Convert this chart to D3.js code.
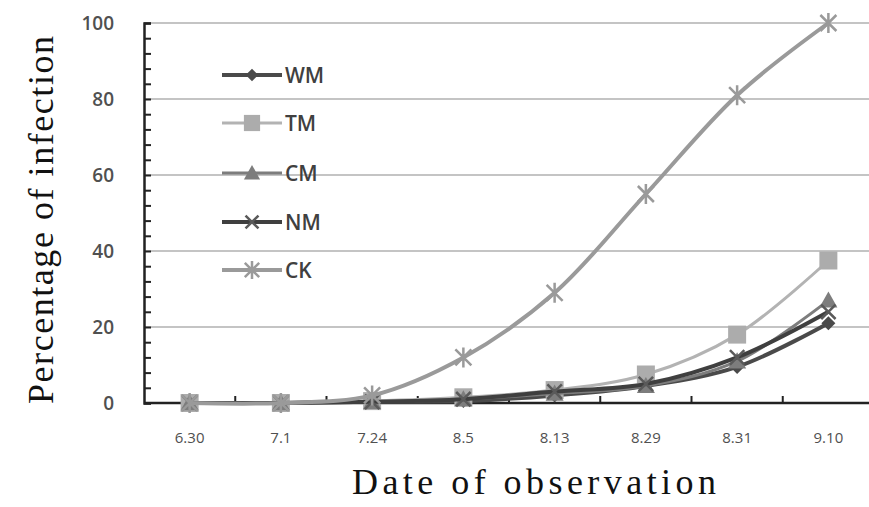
<!DOCTYPE html>
<html><head><meta charset="utf-8">
<script src="https://cdn.jsdelivr.net/npm/d3@7"></script>
<style>body{margin:0;background:#fff}svg{display:block}</style>
</head><body><svg id="c" width="869" height="507"></svg>
<script>
const categories = ["6.30","7.1","7.24","8.5","8.13","8.29","8.31","9.10"];
const WM = [0,0,0.3,0.5,2,4.5,9.5,21];
const TM = [0,0,0.5,1.5,3.4,7.5,18,37.5];
const CM = [0,0,0.3,1,2.5,4.5,11,27];
const NM = [0,0,0.3,1,3,5,12,24];
const CK = [0,0,2,12,29,55,81,100];
const yTicks = [0,20,40,60,80,100];
const seriesNames = ["WM","TM","CM","NM","CK"];
const seriesValues = [WM,TM,CM,NM,CK];

const styles = {
  WM:{line:"#4a4a4a", w:4, marker:"diamond", mfill:"#4a4a4a", size:14},
  TM:{line:"#b3b3b3", w:3, marker:"square", mfill:"#acacac", size:18},
  CM:{line:"#7d7d7d", w:3, marker:"triangle", mfill:"#7d7d7d", size:18},
  NM:{line:"#3f3f3f", w:4, marker:"cross", mfill:"#5a5a5a", size:18},
  CK:{line:"#9a9a9a", w:4, marker:"star", mfill:"#9a9a9a", size:20}
};

const svg = d3.select("#c");
const x = d3.scaleBand().domain(categories).range([144, 874]);
const y = d3.scaleLinear().domain([0,100]).range([403, 23]);

// gridlines
svg.append("g").selectAll("line").data(yTicks.filter(d=>d>0)).join("line")
  .attr("x1",144).attr("x2",869).attr("y1",d=>y(d)).attr("y2",d=>y(d))
  .attr("stroke","#c4c4c4").attr("stroke-width",2);

// y axis with inner minor ticks
const yMinor = d3.range(0,101,4);
const ya = svg.append("g").attr("transform","translate(144,0)")
  .call(d3.axisRight(y).tickValues(yMinor).tickSize(7).tickFormat(""));
ya.select(".domain").attr("stroke","#222").attr("stroke-width",2.5);
ya.selectAll(".tick line").attr("stroke","#222").attr("stroke-width",2);

svg.append("g").selectAll("text").data(yTicks).join("text")
  .attr("x",114).attr("y",d=>y(d)).attr("dy","0.36em").attr("text-anchor","end")
  .attr("font-family","Open Sans, sans-serif").attr("font-size",19).attr("font-weight",600).attr("fill","#505050")
  .text(d=>d);

// x axis
const xa = svg.append("g").attr("transform","translate(0,403)")
  .call(d3.axisBottom(x).tickSize(0).tickFormat(""));
xa.select(".domain").attr("stroke","#222").attr("stroke-width",2.5).attr("d","M144,0H869");
svg.append("g").selectAll("line").data(categories.slice(1)).join("line")
  .attr("x1",d=>x(d)).attr("x2",d=>x(d)).attr("y1",396).attr("y2",403)
  .attr("stroke","#222").attr("stroke-width",2);
svg.append("g").selectAll("text").data(categories).join("text")
  .attr("x",d=>x(d)+x.bandwidth()/2).attr("y",443).attr("text-anchor","middle")
  .attr("font-family","Open Sans, sans-serif").attr("font-size",15).attr("fill","#505050")
  .text(d=>d);

function marker(g, type, fill, size){
  const s = size/2;
  if(type==="diamond"){
    g.append("path").attr("d",`M0,${-s}L${s},0L0,${s}L${-s},0Z`).attr("fill",fill);
  } else if(type==="square"){
    g.append("rect").attr("x",-s).attr("y",-s).attr("width",size).attr("height",size).attr("fill",fill);
  } else if(type==="triangle"){
    g.append("path").attr("d",`M0,${-s}L${s},${s*0.8}L${-s},${s*0.8}Z`).attr("fill",fill);
  } else if(type==="cross"){
    g.append("path").attr("d",`M${-s*0.8},${-s*0.8}L${s*0.8},${s*0.8}M${-s*0.8},${s*0.8}L${s*0.8},${-s*0.8}`)
      .attr("stroke",fill).attr("stroke-width",2.5);
  } else if(type==="star"){
    g.append("path").attr("d",`M${-s*0.8},${-s*0.8}L${s*0.8},${s*0.8}M${-s*0.8},${s*0.8}L${s*0.8},${-s*0.8}M0,${-s}L0,${s}`)
      .attr("stroke",fill).attr("stroke-width",2.5);
  }
}

const line = d3.line().x((d,i)=>x(categories[i])+x.bandwidth()/2).y(d=>y(d))
  .curve(d3.curveCatmullRom.alpha(0.5));

seriesNames.forEach((name,k)=>{
  const st = styles[name];
  const vals = seriesValues[k];
  const g = svg.append("g");
  g.append("path").datum(vals).attr("d",line).attr("fill","none")
    .attr("stroke",st.line).attr("stroke-width",st.w);
  vals.forEach((v,i)=>{
    const m = g.append("g").attr("transform",`translate(${x(categories[i])+x.bandwidth()/2},${y(v)})`);
    marker(m, st.marker, st.mfill, st.size);
  });
});

// legend
const legY = [75,123,173,222,270];
seriesNames.forEach((name,k)=>{
  const st = styles[name];
  const g = svg.append("g").attr("transform",`translate(0,${legY[k]})`);
  g.append("line").attr("x1",222).attr("x2",282).attr("y1",0).attr("y2",0)
    .attr("stroke",st.line).attr("stroke-width",st.w);
  const m = g.append("g").attr("transform","translate(252,0)");
  marker(m, st.marker, st.mfill, st.size*0.9);
  g.append("text").attr("x",285).attr("y",0).attr("dy","0.36em")
    .attr("font-family","Open Sans, sans-serif").attr("font-size",21).attr("font-weight",600).attr("fill","#404040")
    .text(name);
});

// axis titles
svg.append("text").attr("transform","translate(53,220) rotate(-90)").attr("text-anchor","middle")
  .attr("font-family","Liberation Serif, serif").attr("font-size",36).attr("fill","#111")
  .attr("textLength",368).attr("lengthAdjust","spacing")
  .text("Percentage of infection");
svg.append("text").attr("x",534).attr("y",494).attr("text-anchor","middle")
  .attr("font-family","Liberation Serif, serif").attr("font-size",36).attr("fill","#111")
  .attr("textLength",364).attr("lengthAdjust","spacing")
  .text("Date of observation");
</script></body></html>
